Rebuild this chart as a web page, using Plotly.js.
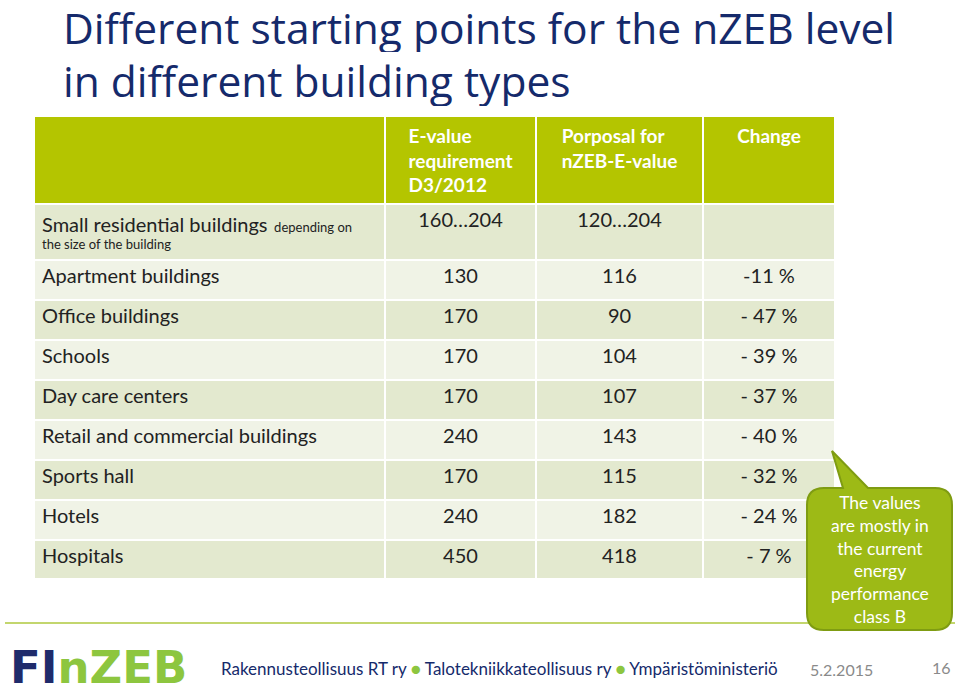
<!DOCTYPE html>
<html>
<head>
<meta charset="utf-8">
<script src="https://cdn.plot.ly/plotly-3.0.1.min.js"></script>
<style>html,body{margin:0;padding:0;background:#fff;}#chart{width:960px;height:696px;}</style>
</head>
<body>
<div id="chart"></div>
<script>
// ---- data ----
var headers = ["", "E-value<br>requirement<br>D3/2012", "Porposal for<br>nZEB-E-value", "Change"];
var buildingTypes = [
  "<span style=\"font-size:20px\">Small residential buildings</span>  depending on<br>the size of the building",
  "Apartment buildings",
  "Office buildings",
  "Schools",
  "Day care centers",
  "Retail and commercial buildings",
  "Sports hall",
  "Hotels",
  "Hospitals"
];
var eValueRequirement = ["160…204", "130", "170", "170", "170", "240", "170", "240", "450"];
var nzebProposal = ["120…204", "116", "90", "104", "107", "143", "115", "182", "418"];
var changeText = ["", "-11 %", "- 47 %", "- 39 %", "- 37 %", "- 40 %", "- 32 %", "- 24 %", "- 7 %"];
var titleLines = ["Different starting points for the nZEB level", "in different building types"];
var calloutText = "The values<br>are mostly in<br>the current<br>energy<br>performance<br>class B";
var footerText = "Rakennusteollisuus RT ry <span style=\"color:#8dc63f\">●</span> Talotekniikkateollisuus ry <span style=\"color:#8dc63f\">●</span> Ympäristöministeriö";
var footerDate = "5.2.2015";
var pageNumber = "16";

// ---- styling ----
var W = 960, H = 696;
function px(x) { return x / W; }
function py(y) { return 1 - y / H; }
var FONT = "Lato, 'Open Sans', sans-serif";
var TITLE_FONT = "'Open Sans', Lato, sans-serif";
var NAVY = "#152a6b";
var HEADER_GREEN = "#b4c500";
var ROW_DARK = "#e3e9cf";
var ROW_LIGHT = "#f0f3e6";

var rowColors = buildingTypes.map(function (_, i) { return i % 2 === 0 ? ROW_DARK : ROW_LIGHT; });
var fillGrid = [rowColors, rowColors, rowColors, rowColors];
// first column, first row holds two font sizes: base size small, main label enlarged via span
var firstColSizes = buildingTypes.map(function (_, i) { return i === 0 ? 13 : 20; });
var fontSizeGrid = [firstColSizes, 20, 20, 20];

var tableTrace = {
  type: "table",
  domain: { x: [px(34), px(835)], y: [py(600), py(116)] },
  columnwidth: [351, 151, 167, 132],
  header: {
    values: headers.map(function (h) { return "<b>" + h + "</b>"; }),
    align: ["left", "center", "center", "center"],
    fill: { color: HEADER_GREEN },
    line: { color: "#ffffff", width: 2 },
    font: { family: FONT, size: 19, color: "#ffffff" },
    height: 87
  },
  cells: {
    values: [buildingTypes, eValueRequirement, nzebProposal, changeText],
    align: ["left", "center", "center", "center"],
    fill: { color: fillGrid },
    line: { color: "#ffffff", width: 2 },
    font: { family: FONT, size: fontSizeGrid, color: "#222222" },
    height: 39.9
  }
};

// callout path (rounded box with tail)
function pathFrom(points) {
  var s = "";
  points.forEach(function (p) {
    if (p[0] === "M" || p[0] === "L") s += p[0] + " " + px(p[1]) + "," + py(p[2]) + " ";
    else if (p[0] === "Q") s += "Q " + px(p[1]) + "," + py(p[2]) + " " + px(p[3]) + "," + py(p[4]) + " ";
    else if (p[0] === "Z") s += "Z";
  });
  return s;
}
var r = 17;
var bx0 = 807, bx1 = 952, by0 = 488, by1 = 630;
var calloutPath = pathFrom([
  ["M", 832, 451],
  ["L", 868, by0],
  ["L", bx1 - r, by0],
  ["Q", bx1, by0, bx1, by0 + r],
  ["L", bx1, by1 - r],
  ["Q", bx1, by1, bx1 - r, by1],
  ["L", bx0 + r, by1],
  ["Q", bx0, by1, bx0, by1 - r],
  ["L", bx0, by0 + r],
  ["Q", bx0, by0, bx0 + r, by0],
  ["L", 843, by0],
  ["Z"]
]);

var layout = {
  width: W, height: H,
  margin: { l: 0, r: 0, t: 0, b: 0 },
  paper_bgcolor: "#ffffff",
  showlegend: false,
  shapes: [
    { type: "line", xref: "paper", yref: "paper", x0: px(5), x1: px(955), y0: py(623), y1: py(623),
      line: { color: "#c3d66e", width: 2 } },
    { type: "path", xref: "paper", yref: "paper", path: calloutPath,
      fillcolor: "#9dba16", line: { color: "#7f9c12", width: 2 } }
  ],
  annotations: [
    { text: titleLines[0], xref: "paper", yref: "paper", x: px(61), y: py(27), xanchor: "left", yanchor: "middle",
      height: 50, valign: "middle",
      showarrow: false, font: { family: TITLE_FONT, size: 42.5, color: NAVY } },
    { text: titleLines[1], xref: "paper", yref: "paper", x: px(61), y: py(80), xanchor: "left", yanchor: "middle",
      height: 52, valign: "middle",
      showarrow: false, font: { family: TITLE_FONT, size: 42.5, color: NAVY } },
    { text: calloutText, xref: "paper", yref: "paper", x: px(880), y: py(559), xanchor: "center", yanchor: "middle",
      showarrow: false, align: "center", font: { family: FONT, size: 17.5, color: "#ffffff" } },
    { text: "<span style=\"color:#1f2b6b\">FI</span><span style=\"color:#8dc63f\">nZEB</span>",
      xref: "paper", yref: "paper", x: px(8), y: py(667), xanchor: "left", yanchor: "middle",
      showarrow: false, font: { family: "'DejaVu Sans', sans-serif", size: 45, weight: 900, color: NAVY } },
    { text: footerText, xref: "paper", yref: "paper", x: px(219), y: py(668), xanchor: "left", yanchor: "middle",
      showarrow: false, font: { family: FONT, size: 17, color: NAVY } },
    { text: footerDate, xref: "paper", yref: "paper", x: px(841), y: py(669), xanchor: "center", yanchor: "middle",
      showarrow: false, font: { family: FONT, size: 16, color: "#8a8a8a" } },
    { text: pageNumber, xref: "paper", yref: "paper", x: px(941), y: py(667), xanchor: "center", yanchor: "middle",
      showarrow: false, font: { family: FONT, size: 16, color: "#8a8a8a" } }
  ]
};

Plotly.newPlot("chart", [tableTrace], layout, { displayModeBar: false, staticPlot: true });
</script>
</body>
</html>
